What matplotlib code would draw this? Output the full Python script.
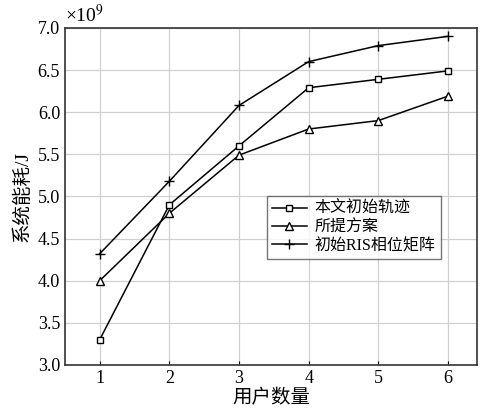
import numpy as np
import matplotlib.pyplot as plt

plt.rcParams['font.family'] = ['Liberation Serif', 'Noto Sans CJK SC']
plt.rcParams['mathtext.fontset'] = 'stix'
plt.rcParams['axes.unicode_minus'] = False

users = [1, 2, 3, 4, 5, 6]
init_traj = [3.3, 4.9, 5.6, 6.29, 6.39, 6.49]
proposed = [4.0, 4.8, 5.49, 5.8, 5.9, 6.19]
init_ris = [4.32, 5.18, 6.08, 6.6, 6.79, 6.9]
labels = ['本文初始轨迹', '所提方案', '初始RIS相位矩阵']

fig = plt.figure(figsize=(4.81, 4.17), dpi=100)
ax = fig.add_axes([0.135, 0.125, 0.857, 0.808])

ax.plot(users, init_traj, color='black', lw=1.1, marker='s', ms=5,
        mfc='white', mec='black', label=labels[0])
ax.plot(users, proposed, color='black', lw=1.1, marker='^', ms=6,
        mfc='white', mec='black', label=labels[1])
ax.plot(users, init_ris, color='black', lw=1.1, marker='+', ms=7,
        mec='black', label=labels[2])

ax.set_xlim(0.5, 6.42)
ax.set_ylim(3.0, 7.0)
ax.set_xticks(users)
ax.set_yticks(np.arange(3.0, 7.01, 0.5))
ax.set_yticklabels(['%.1f' % v for v in np.arange(3.0, 7.01, 0.5)])
ax.grid(True, color='#d0d0d0', lw=0.9)
ax.set_axisbelow(True)
ax.tick_params(axis='both', labelsize=13, direction='in', length=3)
ax.tick_params(axis='y', length=0)
for s in ax.spines.values():
    s.set_color('#333333')
    s.set_linewidth(1.2)

ax.set_xlabel('用户数量', fontsize=14, labelpad=2)
ax.set_ylabel('系统能耗/J', fontsize=14, labelpad=4)
ax.text(0.0, 1.005, r'×10$^9$', transform=ax.transAxes, fontsize=14,
        ha='left', va='bottom')

leg = ax.legend(loc='upper left', bbox_to_anchor=(0.49, 0.5), fontsize=11.5,
                frameon=True, fancybox=False, edgecolor='#555555',
                handlelength=2.2, borderpad=0.3, labelspacing=0.15,
                handletextpad=0.5, borderaxespad=0)
leg.get_frame().set_linewidth(1.0)

fig.savefig('out.png', dpi=100)
